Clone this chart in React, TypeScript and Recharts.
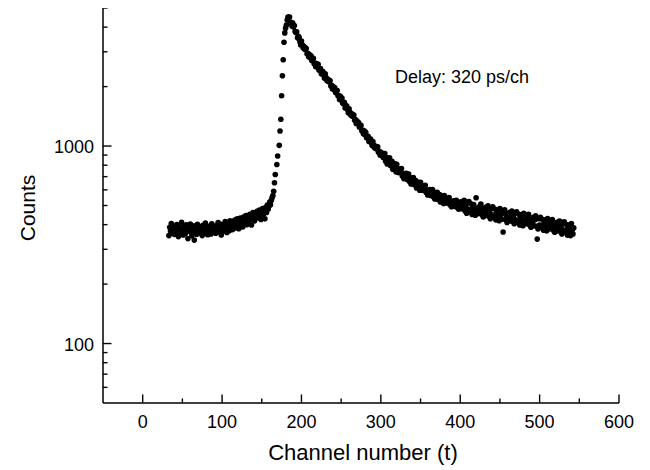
import { ScatterChart, Scatter, XAxis, YAxis } from "recharts"

// flat part before the pulse, channels 33..164
const baseStart = 33
const baseCounts = [
  352, 388, 371, 405, 362, 379, 396, 357, 384, 369,
  401, 376, 348, 390, 365, 382, 411, 370, 355, 393,
  377, 362, 399, 384, 340, 372, 389, 403, 366, 351,
  381, 395, 334, 370, 387, 358, 402, 375, 363, 391,
  368, 384, 352, 397, 379, 361, 408, 373, 386, 356,
  392, 370, 381, 359, 404, 377, 366, 395, 383, 362,
  389, 374, 410, 368, 398, 381, 355, 402, 387, 372,
  396, 415, 379, 365, 404, 390, 373, 418, 384, 399,
  377, 410, 393, 422, 385, 406, 428, 397, 381, 414,
  432, 403, 420, 389, 437, 411, 425, 445, 400, 418,
  436, 412, 451, 427, 398, 444, 461, 430, 418, 452,
  440, 467, 433, 456, 474, 446, 425, 463, 482, 450,
  470, 428, 489, 461, 502, 478, 495, 520, 505, 532,
  548, 561,
]

// rising edge, read dot by dot
const riseChannels = [165, 166, 167, 169, 170, 172, 173, 174, 175, 176, 177, 178, 179, 180, 181, 182, 183]
const riseCounts = [590, 652, 718, 807, 890, 1008, 1192, 1367, 1796, 2269, 2737, 3355, 3741, 3953, 4100, 4350, 4500]

// decay, channels 184..543
const decayStart = 184
const decayCounts = [
  4490, 4500, 4210, 4235, 4050, 4190, 4010, 4080, 3800, 3760,
  3790, 3530, 3600, 3550, 3370, 3250, 3400, 3255, 3150, 3200,
  3090, 3140, 3120, 2930, 2950, 2830, 2910, 2810, 2860, 2710,
  2760, 2780, 2610, 2630, 2520, 2620, 2510, 2590, 2430, 2425,
  2470, 2320, 2385, 2380, 2280, 2205, 2320, 2220, 2145, 2185,
  2120, 2150, 2140, 2015, 2030, 1945, 2000, 1935, 1970, 1865,
  1900, 1910, 1795, 1800, 1720, 1785, 1710, 1750, 1645, 1640,
  1665, 1560, 1605, 1595, 1530, 1475, 1545, 1482, 1435, 1460,
  1415, 1440, 1435, 1350, 1360, 1300, 1340, 1295, 1315, 1245,
  1270, 1275, 1195, 1205, 1155, 1195, 1145, 1175, 1100, 1100,
  1120, 1055, 1085, 1085, 1040, 1005, 1055, 1011, 980, 1000,
  970, 990, 990, 930, 940, 900, 930, 900, 920, 875,
  896, 916, 838, 859, 811, 872, 825, 871, 798, 804,
  836, 764, 810, 815, 771, 740, 808, 764, 734, 764,
  734, 764, 770, 706, 724, 684, 725, 698, 727, 677,
  705, 722, 662, 680, 643, 691, 655, 693, 636, 642,
  669, 613, 650, 656, 622, 598, 655, 621, 597, 624,
  600, 626, 633, 581, 597, 565, 599, 578, 603, 562,
  587, 603, 554, 569, 539, 581, 551, 584, 537, 543,
  568, 521, 554, 559, 531, 512, 562, 534, 515, 538,
  520, 543, 549, 505, 520, 493, 524, 506, 528, 494,
  517, 531, 490, 504, 479, 517, 492, 522, 481, 487,
  508, 531, 470, 493, 457, 515, 478, 524, 465, 475,
  509, 450, 496, 506, 470, 446, 547, 479, 455, 488,
  465, 498, 508, 450, 472, 437, 481, 458, 490, 445,
  477, 498, 442, 463, 429, 483, 449, 492, 436, 446,
  478, 422, 465, 475, 441, 419, 482, 449, 426, 458,
  367, 466, 476, 423, 443, 410, 452, 429, 461, 418,
  448, 468, 416, 436, 404, 455, 423, 464, 411, 421,
  451, 398, 439, 449, 417, 395, 456, 425, 404, 433,
  412, 441, 451, 400, 419, 388, 427, 407, 436, 395,
  424, 443, 392, 338, 380, 429, 398, 436, 387, 396,
  424, 375, 413, 422, 392, 372, 429, 400, 380, 408,
  388, 416, 424, 376, 395, 366, 402, 384, 411, 372,
  399, 417, 370, 388, 359, 405, 376, 413, 366, 374,
  400, 354, 390, 398, 370, 352, 405, 377, 359, 385,
]

const xTicks = [0, 50, 100, 150, 200, 250, 300, 350, 400, 450, 500, 550, 600]
const yTicks = [60, 70, 80, 90, 100, 200, 300, 400, 500, 600, 700, 800, 900, 1000, 2000, 3000, 4000, 5000]
const yLabels = [100, 1000]

const data = [
  ...baseCounts.map((c, i) => ({ ch: baseStart + i, counts: c })),
  ...riseCounts.map((c, i) => ({ ch: riseChannels[i], counts: c })),
  ...decayCounts.map((c, i) => ({ ch: decayStart + i, counts: c })),
]

const font = "'Liberation Sans', Arial, Helvetica, sans-serif"

function XTick(props: any) {
  const { x, y, payload } = props
  const major = payload.value % 100 === 0
  return (
    <g>
      <line x1={x} x2={x} y1={y} y2={y - (major ? 8.5 : 4.5)} stroke="#000" strokeWidth={1.4} />
      {major && (
        <text x={x} y={y + 25} textAnchor="middle" fontSize={18} fontFamily={font} fill="#000">
          {payload.value}
        </text>
      )}
    </g>
  )
}

function YTick(props: any) {
  const { x, y, payload } = props
  const major = yLabels.includes(payload.value)
  return (
    <g>
      <line x1={x} x2={x + (major ? 8.5 : 4.5)} y1={y} y2={y} stroke="#000" strokeWidth={1.4} />
      {major && (
        <text x={x - 9} y={y + 7} textAnchor="end" fontSize={18} fontFamily={font} fill="#000">
          {payload.value}
        </text>
      )}
    </g>
  )
}

const Dot = (p: any) => <circle cx={p.cx} cy={p.cy} r={2.8} fill="#000" />

export default function App() {
  return (
    <div style={{ position: "relative", width: 642, height: 462, background: "#fff" }}>
      <ScatterChart width={642} height={462} margin={{ top: 0, right: 31, left: 35, bottom: 37 }}>
        <XAxis
          type="number"
          dataKey="ch"
          domain={[-50, 600]}
          allowDataOverflow
          ticks={xTicks}
          interval={0}
          tick={<XTick />}
          tickLine={false}
          tickSize={0}
          tickMargin={0}
          height={30}
          axisLine={{ stroke: "#000", strokeWidth: 1.5 }}
        />
        <YAxis
          type="number"
          dataKey="counts"
          scale="log"
          domain={[50, 5000]}
          allowDataOverflow
          ticks={yTicks}
          interval={0}
          tick={<YTick />}
          tickLine={false}
          tickSize={0}
          tickMargin={0}
          width={60}
          axisLine={{ stroke: "#000", strokeWidth: 1.5 }}
        />
        <Scatter data={data} shape={Dot} isAnimationActive={false} />
      </ScatterChart>
      <svg
        width={642}
        height={462}
        style={{ position: "absolute", left: 0, top: 0, pointerEvents: "none" }}
        fontFamily={font}
      >
        <text x={387} y={75} fontSize={18} fill="#000">
          Delay: 320 ps/ch
        </text>
        <text x={355} y={452} textAnchor="middle" fontSize={22} fill="#000">
          Channel number (t)
        </text>
        <text x={27} y={200} textAnchor="middle" fontSize={21} fill="#000" transform="rotate(-90 27 200)">
          Counts
        </text>
      </svg>
    </div>
  )
}
